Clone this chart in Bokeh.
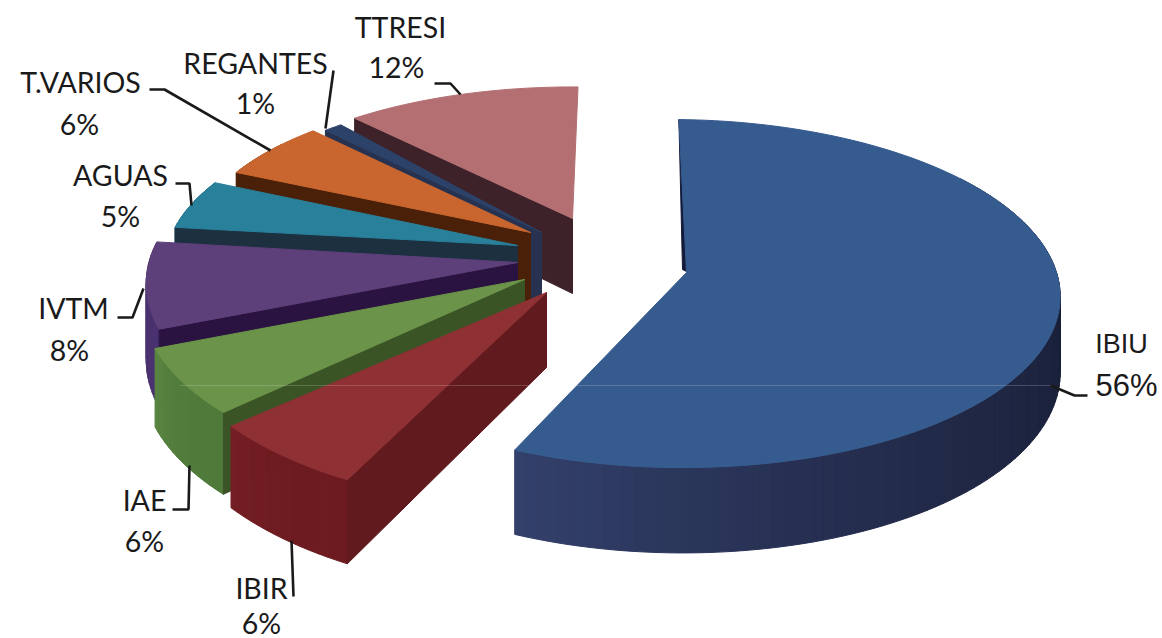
import math
from bokeh.plotting import figure
from bokeh.models import Range1d
from bokeh.embed import file_html
from bokeh.resources import INLINE
from bokeh.core.properties import value

# --- data ---
names = ["IBIU", "IBIR", "IAE", "IVTM", "AGUAS", "T.VARIOS", "REGANTES", "TTRESI"]
shares = [56, 6, 6, 8, 5, 6, 1, 12]

# --- colours ---
top_colors = ["#365b8f", "#8f3034", "#6b9349", "#5d3f7a", "#29809b", "#c9662f", "#2c4269", "#b36f72"]
radial_colors = ["#141b3a", "#611a1e", "#3b5426", "#2a1340", "#1c3040", "#4a2008", "#26324f", "#3e2229"]
arc_start_colors = ["#151a30", "#6d1b20", "#4f7a3a", "#4a3270", "#1e4a5c", "#7a3a18", "#26324f", "#3e2229"]
arc_end_colors = ["#33406b", "#741e24", "#5a8542", "#4a3270", "#1e4a5c", "#7a3a18", "#26324f", "#3e2229"]

# --- layout of the exploded, tilted pie (page pixels) ---
center_x = [676, 546, 524, 517, 517, 530, 541, 572]
apex_x = [686, 546, 524, 517, 517, 530, 541, 572]
apex_y = [272, 292, 279, 262, 245, 232, 232, 218]
turn = [1.5, 6.0, 3.4, 3.4, 3.1, 2.5, 2.8, 1.0]
scale_x = [1.0, 1.01, 1.0, 0.97, 0.92, 0.89, 0.89, 0.93]
scale_y = [1.0, 1.10, 1.035, 1.0, 0.92, 0.90, 0.90, 0.86]
skew = [-6.5, 0, 0, 0, 0, 0, 0, 0]
RX, RY, PERSP, DEPTH = 380.0, 171.5, 0.121, 75.0

# --- annotation layout ---
label_pos = [(1121, 343), (261, 587), (144, 499), (73, 307), (120, 174), (80, 81), (255, 62), (400, 26)]
pct_pos = [(1126, 385), (261, 622), (144, 540), (69, 349), (120, 215), (79, 123), (255, 102), (396, 66)]
leader_x = [[1087, 1074, 1050], [293, 291], [172, 188, 189], [117, 132, 143],
            [175, 189, 191], [149, 164, 270], [333, 325], [434, 450, 460]]
leader_y = [[395, 395, 385], [596, 540], [509, 509, 465], [317, 317, 288],
            [183, 183, 205], [89, 89, 150], [70, 128], [83, 83, 94]]


def project(i, deg):
    t = math.radians(deg)
    X, Y = math.sin(t), math.cos(t)
    w = 1 + PERSP * Y
    return (center_x[i] + scale_x[i] * RX * X / w + skew[i] * Y,
            apex_y[i] - scale_y[i] * RY * Y / w,
            DEPTH / w)


def mix(a, b, f):
    ca = [int(a[k:k + 2], 16) for k in (1, 3, 5)]
    cb = [int(b[k:k + 2], 16) for k in (1, 3, 5)]
    return "#%02x%02x%02x" % tuple(round(u + (v - u) * f) for u, v in zip(ca, cb))


p = figure(width=1162, height=638, output_backend="svg", toolbar_location=None,
           x_range=Range1d(0, 1162), y_range=Range1d(638, 0), min_border=0)
p.axis.visible = False
p.grid.visible = False
p.outline_line_color = None
p.background_fill_color = "white"
p.border_fill_color = "white"

starts, acc = [], 0.0
for s in shares:
    starts.append(acc)
    acc += s * 3.6

for i in range(len(shares) - 1, -1, -1):
    a0 = starts[i] + turn[i]
    sweep = shares[i] * 3.6
    n = max(6, int(sweep / 1.5))
    angles = [a0 + sweep * k / n for k in range(n + 1)]
    arc = [project(i, d) for d in angles]
    ax, ay = apex_x[i], apex_y[i]
    # outer rim: only the part that faces the viewer
    xs, ys, cols = [], [], []
    for k in range(n):
        if math.cos(math.radians(angles[k])) > 0.6:
            continue
        a, b = arc[k], arc[k + 1]
        xs.append([a[0], b[0], b[0], a[0]])
        ys.append([a[1], b[1], b[1] + b[2], a[1] + a[2]])
        cols.append(mix(arc_start_colors[i], arc_end_colors[i], ((k + 0.5) / n) ** 2.5))
    if xs:
        p.patches(xs, ys, fill_color=cols, line_color=cols, line_width=1)
    # radial wall at the start of the slice
    c = arc[0]
    if i == 0:
        p.patch([c[0], ax + 2, ax - 4], [c[1], ay, ay - 3], fill_color=radial_colors[i],
                line_color=radial_colors[i], line_width=1)
    else:
        p.patch([c[0], ax, ax, c[0]], [c[1], ay, ay + DEPTH, c[1] + c[2]],
                fill_color=radial_colors[i], line_color=radial_colors[i], line_width=1)
    # top face
    p.patch([ax] + [q[0] for q in arc], [ay] + [q[1] for q in arc],
            fill_color=top_colors[i], line_color=top_colors[i], line_width=1)

# faint scan line across the picture
p.line([180, 1053], [385, 385], line_color="#ffffff", line_alpha=0.18, line_width=1)

# leaders and labels
for i in range(len(names)):
    p.line(leader_x[i], leader_y[i], line_color="#1a1a1a", line_width=2.6)
    big = names[i] == "IBIU"
    font = "Liberation Sans" if big else "Lato"
    p.text([label_pos[i][0]], [label_pos[i][1]], text=[names[i]], text_font=value(font),
           text_font_size="27px" if big else "28.5px", text_color="#1a1a1a", text_align="center", text_baseline="middle")
    p.text([pct_pos[i][0]], [pct_pos[i][1]], text=["%d%%" % shares[i]], text_font=value(font),
           text_font_size="31px" if big else "28.5px", text_color="#1a1a1a",
           text_align="center", text_baseline="middle")

open("out.html", "w").write(file_html(p, INLINE))
